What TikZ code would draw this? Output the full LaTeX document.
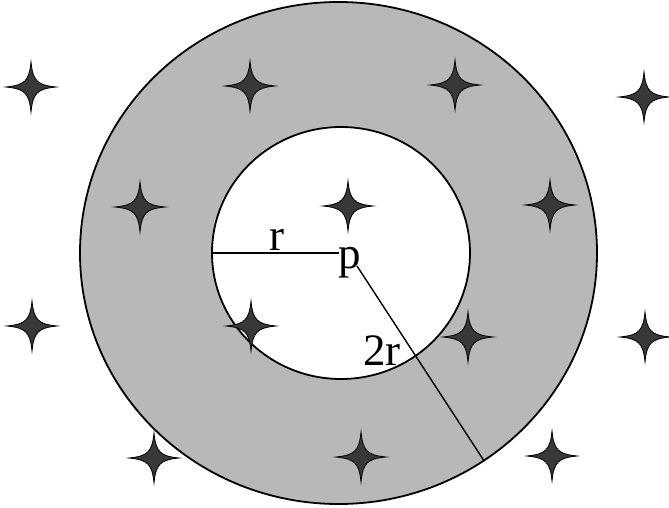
\documentclass[tikz,border=0pt]{standalone}
\usepackage{fontspec}
\setmainfont{Liberation Serif}
\usetikzlibrary{shapes.geometric}

\tikzset{
  ring/.style={draw, line width=1.8pt, ellipse, inner sep=0pt},
  radiusline/.style={line width=1.4pt},
  lbl/.style={inner sep=0pt, anchor=base, font=\fontsize{45}{48}\selectfont},
  sparkle/.pic={
    \filldraw[fill=black!78, draw=black, line width=0.8pt]
      (0,-25) .. controls (2,-6) and (6,-2) .. (25,0)
      .. controls (6,2) and (2,6) .. (0,25)
      .. controls (-2,6) and (-6,2) .. (-25,0)
      .. controls (-6,-2) and (-2,-6) .. cycle;
  }
}

\begin{document}
\begin{tikzpicture}[x=1pt,y=-1pt]
\useasboundingbox (0,0) rectangle (669,508);
% neighbourhood ring round p
\node[ring, fill=black!28, minimum width=517, minimum height=502] (outer) at (338.5,253) {};
\node[ring, fill=white, minimum width=258, minimum height=252] (inner) at (341,253) {};
\node[lbl] (p) at (350,268.5) {p};
\node[lbl] (rlabel) at (277,250) {r};
\node[lbl] (tworlabel) at (382,365) {2r};
\coordinate (tail) at (357,266);
\draw[radiusline] (inner.west) -- (inner.west -| p.west);
\draw[radiusline] (tail) -- (outer.-55.5);
% the points
\foreach \px/\py in {31/87, 250/86, 455/85, 644/97,
                     140/207, 348/206, 550/205,
                     32/326, 251/326, 468/337, 645/337,
                     154/458, 361/457, 552/456}
  \pic at (\px,\py) {sparkle};
\end{tikzpicture}
\end{document}
